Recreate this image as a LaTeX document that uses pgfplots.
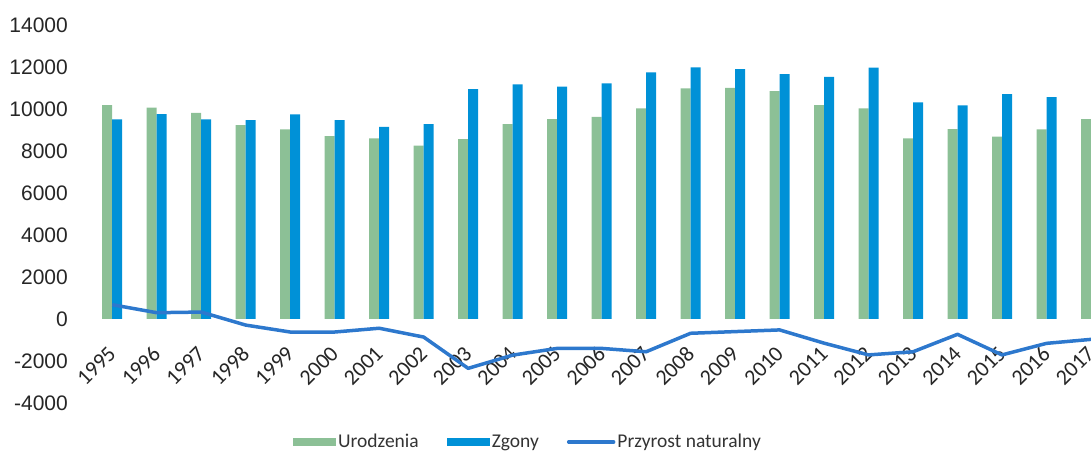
\documentclass[border=0pt]{standalone}
\usepackage{pgfplots}
\pgfplotsset{compat=1.18}
\usepackage{pgfplotstable}
\usepackage{fontspec}
\setmainfont{Liberation Sans}
\newfontfamily\carlito{Carlito}
\definecolor{urod}{RGB}{140,192,150}
\definecolor{zgon}{RGB}{0,145,215}
\definecolor{przy}{RGB}{45,120,205}

\pgfplotstableread{
x ur zg pn
0 10190 9500 680
1 10060 9760 300
2 9820 9500 330
3 9230 9470 -290
4 9030 9740 -620
5 8710 9470 -620
6 8600 9150 -440
7 8250 9280 -860
8 8570 10950 -2350
9 9280 11170 -1720
10 9520 11060 -1400
11 9630 11220 -1400
12 10030 11740 -1560
13 10980 11980 -680
14 11010 11900 -600
15 10850 11660 -520
16 10190 11530 -1150
17 10030 11970 -1710
18 8600 10310 -1560
19 9040 10170 -730
20 8680 10710 -1710
21 9030 10570 -1160
22 9520 11100 -970
}\data

\begin{document}
\begin{tikzpicture}[x=1pt,y=1pt]
\useasboundingbox (0,0) rectangle (1091,457);
\begin{axis}[
  at={(90pt,54pt)}, anchor=south west,
  scale only axis, width=1001pt, height=378pt,
  xmin=-0.5, xmax=22, ymin=-4000, ymax=14000,
  scaled y ticks=false, scaled x ticks=false,
  axis line style={draw=none}, major tick length=0pt,
  ytick={-4000,-2000,0,2000,4000,6000,8000,10000,12000,14000},
  yticklabels={-4000,-2000,0,2000,4000,6000,8000,10000,12000,14000},
  yticklabel style={font=\fontsize{21}{21}\selectfont, anchor=east, inner sep=0pt, xshift=-22pt, text=black!85},
  xtick={0,1,...,22},
  xticklabels={1995,1996,1997,1998,1999,2000,2001,2002,2003,2004,2005,2006,2007,2008,2009,2010,2011,2012,2013,2014,2015,2016,2017},
  xticklabel style={font=\carlito\fontsize{22}{22}\selectfont, rotate=45, anchor=east, inner sep=0pt, text=black!85},
  xticklabel shift=-53pt,
  legend style={at={(0.4376,-0.103)}, anchor=center, draw=none, fill=none, legend columns=3,
    font=\carlito\fontsize{19.5}{19.5}\selectfont, text=black!80,
    /tikz/every even column/.append style={column sep=26pt}},
  legend cell align=left,
]
\addplot[ybar, bar width=10pt, bar shift=-5pt, fill=urod, draw=none,
  legend image code/.code={\fill[urod] (0pt,-4pt) rectangle (43pt,4pt);}]
  table[x=x,y=ur]{\data};
\addlegendentry{Urodzenia}
\addplot[ybar, bar width=10pt, bar shift=5pt, fill=zgon, draw=none,
  legend image code/.code={\fill[zgon] (0pt,-4pt) rectangle (43pt,4pt);}]
  table[x=x,y=zg]{\data};
\addlegendentry{Zgony}
\addplot[sharp plot, no marks, draw=przy, line width=3.5pt, line join=round,
  legend image code/.code={\draw[przy, line width=3.5pt, line cap=round] (0pt,0pt) -- (45pt,0pt);}]
  table[x=x,y=pn]{\data};
\addlegendentry{Przyrost naturalny}
\end{axis}
\end{tikzpicture}
\end{document}
